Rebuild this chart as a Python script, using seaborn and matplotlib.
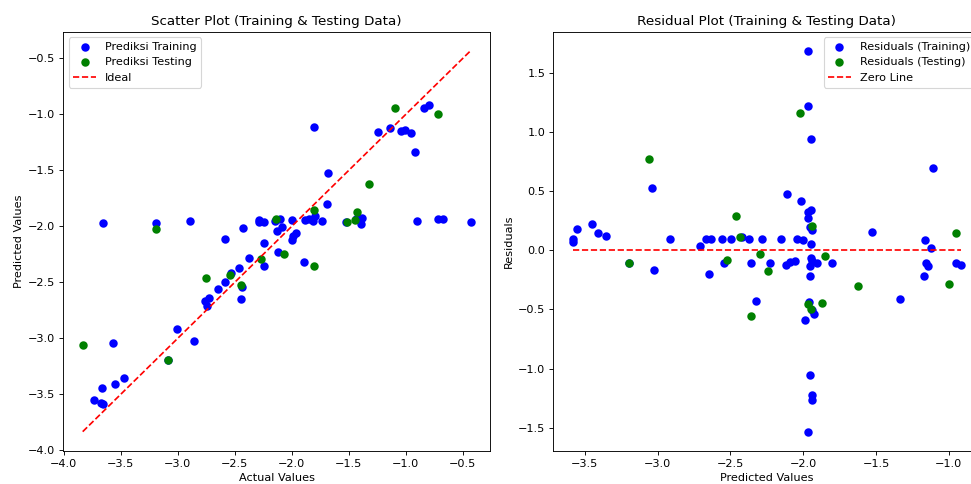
import numpy as np
import pandas as pd
import matplotlib
matplotlib.use("Agg")
import matplotlib.pyplot as plt
import seaborn as sns

# Training data (actual, predicted)
train_actual = [-3.672, -3.652, -3.733, -3.668, -3.555, -3.475, -3.090, -3.569, -2.861, -3.006,
                -2.746, -2.763, -2.729, -2.445, -2.649, -2.436, -2.589, -2.530, -2.464, -2.247,
                -1.896, -2.376, -2.124, -2.244, -1.994, -1.989, -1.966, -2.587, -2.134, -2.431,
                -2.089, -1.397, -3.659, -3.193, -2.895, -2.286, -2.288, -2.243, -2.148, -2.105,
                -1.998, -1.882, -1.818, -1.801, -1.845, -1.732, -1.433, -1.385, -0.903, -0.718,
                -0.675, -0.432, -1.695, -1.682, -0.924, -1.245, -1.139, -1.043, -1.009, -0.951,
                -1.808, -0.840, -0.794, -1.528]
train_pred = [-3.579, -3.584, -3.555, -3.448, -3.411, -3.356, -3.196, -3.038, -3.025, -2.913,
              -2.709, -2.670, -2.636, -2.645, -2.556, -2.546, -2.496, -2.420, -2.371, -2.357,
              -2.323, -2.283, -2.229, -2.151, -2.121, -2.091, -2.057, -2.112, -2.041, -2.016,
              -2.004, -1.984, -1.970, -1.970, -1.949, -1.947, -1.966, -1.966, -1.950, -1.936,
              -1.947, -1.947, -1.954, -1.908, -1.936, -1.952, -1.936, -1.927, -1.954, -1.938,
              -1.938, -1.966, -1.805, -1.524, -1.334, -1.160, -1.119, -1.153, -1.139, -1.169,
              -1.110, -0.947, -0.918, -1.961]

# Testing data (actual, predicted)
test_actual = [-3.834, -3.086, -2.444, -2.755, -2.544, -1.804, -2.267, -2.072, -3.187, -2.141,
               -1.803, -1.326, -1.514, -1.449, -1.428, -1.097, -0.718]
test_pred = [-3.057, -3.196, -2.526, -2.464, -2.434, -2.357, -2.295, -2.244, -2.023, -1.938,
             -1.851, -1.625, -1.966, -1.943, -1.874, -0.947, -1.000]

train = pd.DataFrame({"actual": train_actual, "pred": train_pred})
test = pd.DataFrame({"actual": test_actual, "pred": test_pred})
train["resid"] = train["pred"] - train["actual"]
test["resid"] = test["pred"] - test["actual"]

all_actual = np.array(train_actual + test_actual)
all_pred = np.array(train_pred + test_pred)

dpi = 971 / 12
fig = plt.figure(figsize=(12, 5.982), dpi=dpi)
W, H = 971, 484
ax1 = fig.add_axes([63.3 / W, (H - 450.7) / H, 426.7 / W, 419.0 / H])
ax2 = fig.add_axes([553.3 / W, (H - 450.7) / H, 426.7 / W, 419.0 / H])

sc_kw = dict(s=36, edgecolor="face", linewidth=1.5)

# Left: scatter
sns.scatterplot(data=train, x="actual", y="pred", color="blue", label="Prediksi Training", ax=ax1, **sc_kw)
sns.scatterplot(data=test, x="actual", y="pred", color="green", label="Prediksi Testing", ax=ax1, **sc_kw)
lo, hi = all_actual.min(), all_actual.max()
ideal = pd.DataFrame({"x": [lo, hi], "y": [lo, hi]})
sns.lineplot(data=ideal, x="x", y="y", color="red", linestyle="--", label="Ideal", ax=ax1)
ax1.set_title("Scatter Plot (Training & Testing Data)", fontsize=12)
ax1.set_xlabel("Actual Values")
ax1.set_ylabel("Predicted Values")
ax1.legend(loc="upper left")

# Right: residuals
sns.scatterplot(data=train, x="pred", y="resid", color="blue", label="Residuals (Training)", ax=ax2, **sc_kw)
sns.scatterplot(data=test, x="pred", y="resid", color="green", label="Residuals (Testing)", ax=ax2, **sc_kw)
zero = pd.DataFrame({"x": [all_pred.min(), all_pred.max()], "y": [0.0, 0.0]})
sns.lineplot(data=zero, x="x", y="y", color="red", linestyle="--", label="Zero Line", ax=ax2)
ax2.set_title("Residual Plot (Training & Testing Data)", fontsize=12)
ax2.set_xlabel("Predicted Values")
ax2.set_ylabel("Residuals")
ax2.legend(loc="upper right")

fig.savefig("out.png", dpi=dpi)
